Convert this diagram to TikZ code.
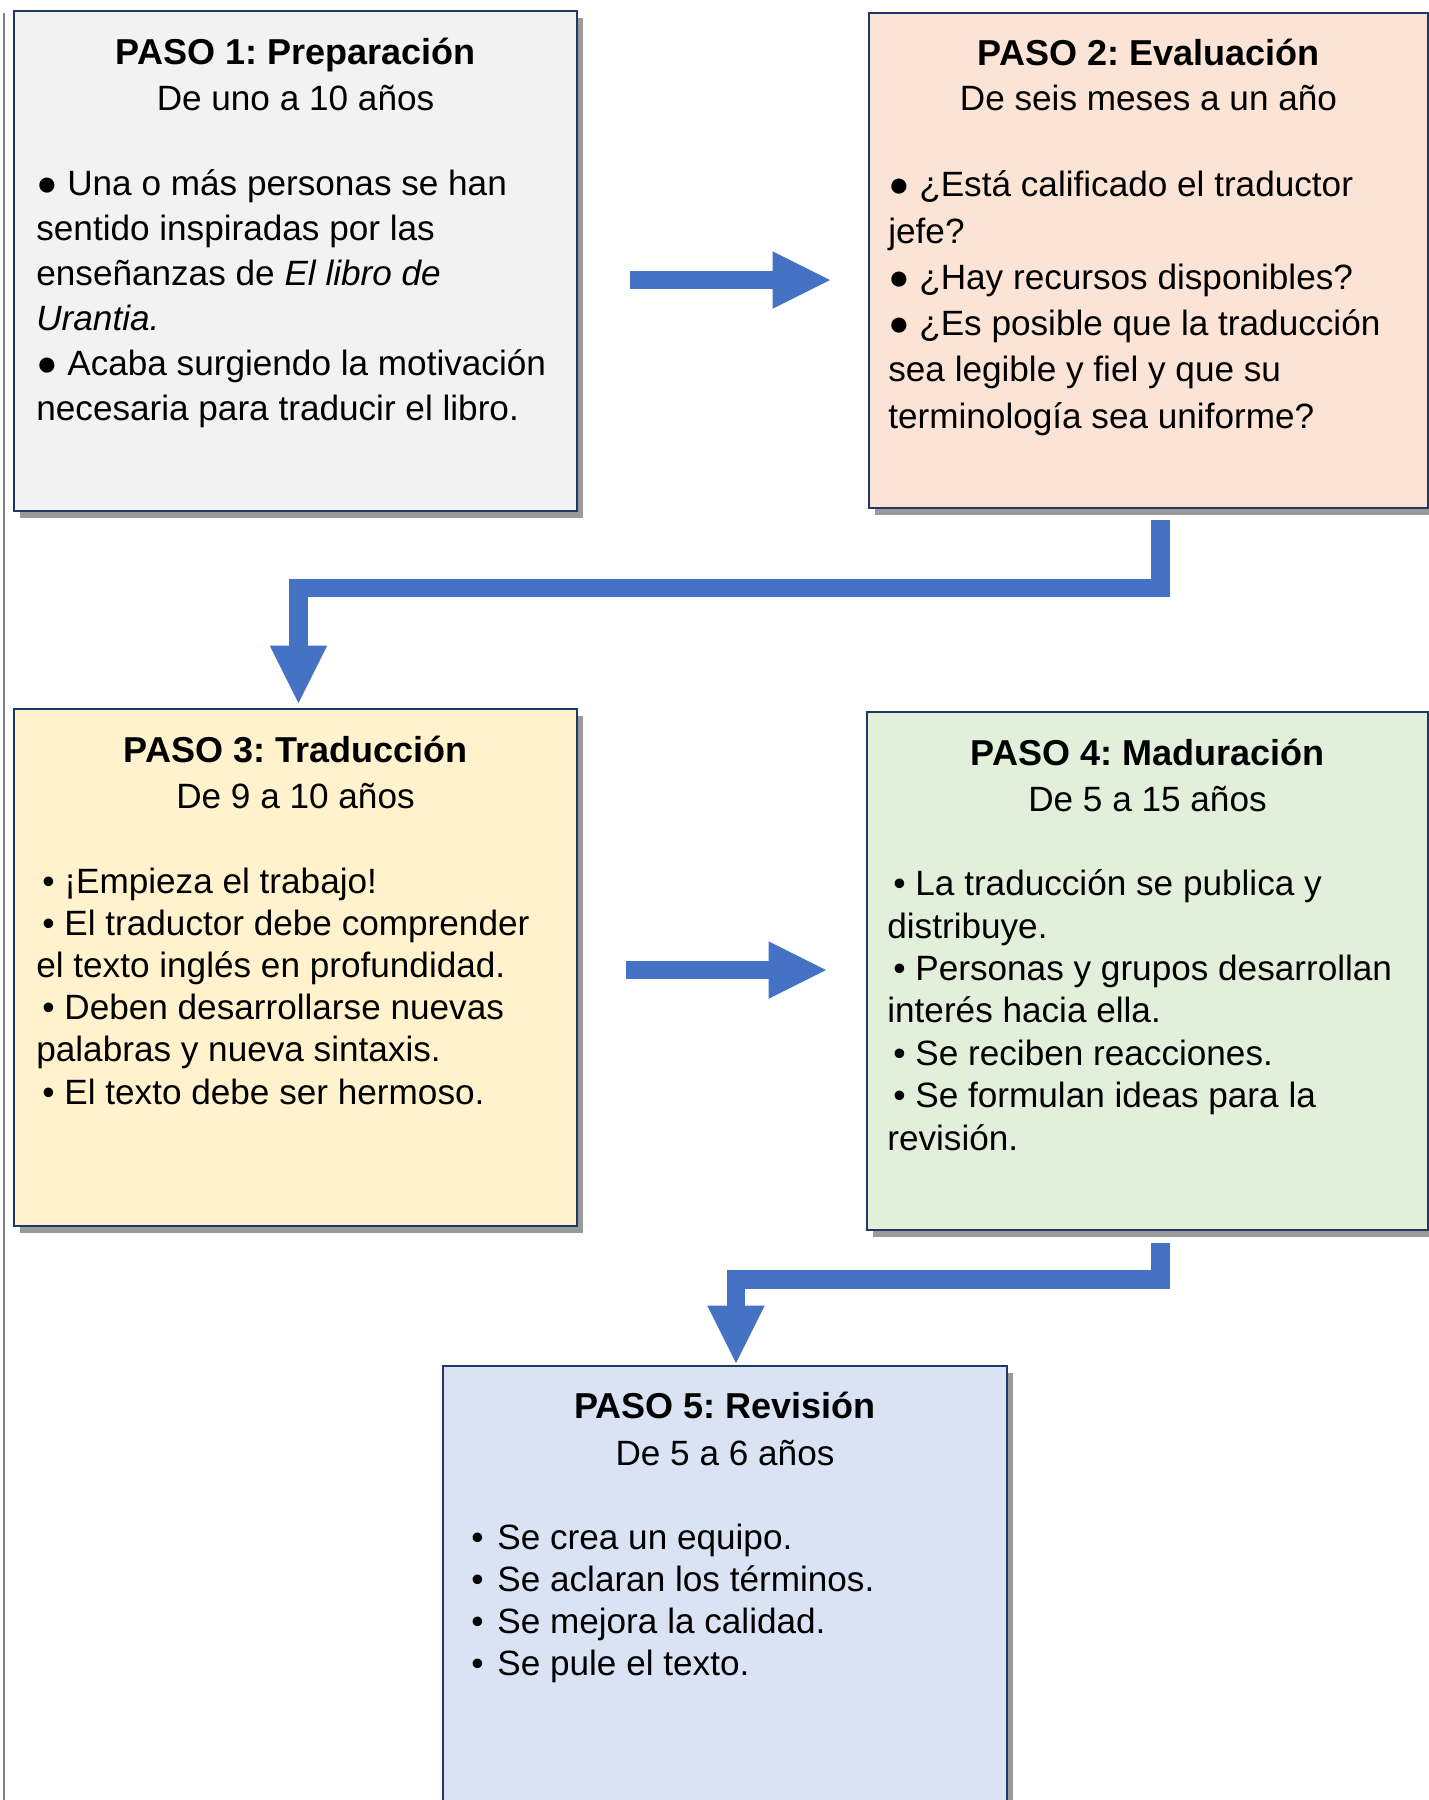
\documentclass[tikz,border=0pt]{standalone}
\usepackage{fontspec}
\setmainfont{Liberation Sans}
\usetikzlibrary{arrows.meta,shadows}
\frenchspacing

\definecolor{stepblue}{HTML}{4472C4}
\definecolor{edgenavy}{HTML}{1F3864}
\definecolor{shadowgray}{HTML}{9A9A9A}
\definecolor{marginline}{HTML}{808080}
\definecolor{fillgray}{HTML}{F2F2F2}
\definecolor{fillpeach}{HTML}{FBE3D6}
\definecolor{fillcream}{HTML}{FFF2CC}
\definecolor{fillgreen}{HTML}{E2EFDA}
\definecolor{fillblue}{HTML}{DAE3F3}

\begin{document}
\begin{tikzpicture}[x=0.2mm, y=-0.2mm,
    stepbox/.style={draw=edgenavy, line width=1.3pt, anchor=north west, inner sep=0pt, outer sep=0pt,
      drop shadow={shadow xshift=1.2mm, shadow yshift=-1.4mm, fill=shadowgray, opacity=1}},
    headline/.style={anchor=base, inner sep=0pt, font=\fontsize{20.5}{24}\selectfont\bfseries},
    span/.style={anchor=base, inner sep=0pt, font=\fontsize{20}{24}\selectfont},
    itemtext/.style={anchor=base west, inner sep=0pt, align=left, font=\fontsize{20}{#1}\selectfont},
    flow/.style={draw=stepblue, line width=3.7mm, line join=miter,
      -{Triangle[length=11.5mm, width=11.5mm, line width=0pt]}}]
  \useasboundingbox (0,0) rectangle (1429,1800);
  \clip (0,0) rectangle (1429,1800);

  % Margin rule
  \draw[marginline, line width=0.3mm] (4,13) -- (4,1800);

  % Boxes
  \node[stepbox, fill=fillgray, minimum width=112.6mm, minimum height=100mm] (b1) at (14,11) {};
  \node[stepbox, fill=fillpeach, minimum width=111.8mm, minimum height=99mm] (b2) at (869,13) {};
  \node[stepbox, fill=fillcream, minimum width=112.6mm, minimum height=103.4mm] (b3) at (14,709) {};
  \node[stepbox, fill=fillgreen, minimum width=112.2mm, minimum height=103.6mm] (b4) at (867,712) {};
  \node[stepbox, fill=fillblue, minimum width=112.8mm, minimum height=100mm] (b5) at (443,1366) {};

  % Step 1 (list nodes sit on their last baseline)
  \node[headline] (h1) at (295.5,64) {PASO 1: Preparación};
  \node[span] (d1) at (295.5,110) {De uno a 10 años};
  \node[itemtext=25.5pt] (l1) at (36,420) {● Una o más personas se han\\
    sentido inspiradas por las\\
    enseñanzas de \textit{El libro de}\\
    \textit{Urantia.}\\
    ● Acaba surgiendo la motivación\\
    necesaria para traducir el libro.};

  % Step 2
  \node[headline] (h2) at (1148.5,65) {PASO 2: Evaluación};
  \node[span] (d2) at (1148.5,110) {De seis meses a un año};
  \node[itemtext=26.3pt] (l2) at (888,428) {● ¿Está calificado el traductor\\
    jefe?\\
    ● ¿Hay recursos disponibles?\\
    ● ¿Es posible que la traducción\\
    sea legible y fiel y que su\\
    terminología sea uniforme?};

  % Step 3
  \node[headline] (h3) at (295.5,762) {PASO 3: Traducción};
  \node[span] (d3) at (295.5,808) {De 9 a 10 años};
  \node[itemtext=24pt] (l3) at (36,1104) {\hspace{1.2mm}• ¡Empieza el trabajo!\\
    \hspace{1.2mm}• El traductor debe comprender\\
    el texto inglés en profundidad.\\
    \hspace{1.2mm}• Deben desarrollarse nuevas\\
    palabras y nueva sintaxis.\\
    \hspace{1.2mm}• El texto debe ser hermoso.};

  % Step 4
  \node[headline] (h4) at (1147.5,765) {PASO 4: Maduración};
  \node[span] (d4) at (1147.5,811) {De 5 a 15 años};
  \node[itemtext=24.1pt] (l4) at (887,1150) {\hspace{1.2mm}• La traducción se publica y\\
    distribuye.\\
    \hspace{1.2mm}• Personas y grupos desarrollan\\
    interés hacia ella.\\
    \hspace{1.2mm}• Se reciben reacciones.\\
    \hspace{1.2mm}• Se formulan ideas para la\\
    revisión.};

  % Step 5
  \node[headline] (h5) at (725,1418) {PASO 5: Revisión};
  \node[span] (d5) at (725,1465) {De 5 a 6 años};
  \node[itemtext=23.9pt] (l5) at (471,1675) {\makebox[5.2mm][l]{•}Se crea un equipo.\\
    \makebox[5.2mm][l]{•}Se aclaran los términos.\\
    \makebox[5.2mm][l]{•}Se mejora la calidad.\\
    \makebox[5.2mm][l]{•}Se pule el texto.};

  % Arrows
  \coordinate (s12) at (630,280);
  \coordinate (e12) at (830,280);
  \coordinate (s23) at (1160.5,520);
  \coordinate (k23) at (1160.5,588);
  \coordinate (e23) at (298.5,703);
  \coordinate (s34) at (626,970);
  \coordinate (e34) at (826,970);
  \coordinate (s45) at (1160.5,1243);
  \coordinate (k45) at (1160.5,1279.5);
  \coordinate (e45) at (736,1363);

  \draw[flow] (s12) -- (e12);
  \draw[flow] (s23) -- (k23) -| (e23);
  \draw[flow] (s34) -- (e34);
  \draw[flow] (s45) -- (k45) -| (e45);
\end{tikzpicture}
\end{document}
